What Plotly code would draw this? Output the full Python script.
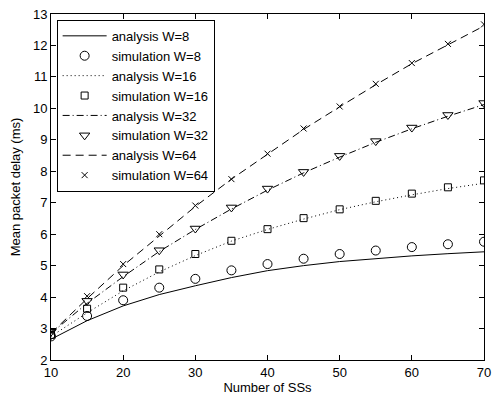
import plotly.graph_objects as go

x = [10, 15, 20, 25, 30, 35, 40, 45, 50, 55, 60, 65, 70]

ana_w8 = [2.66, 3.25, 3.72, 4.08, 4.36, 4.62, 4.84, 5.00, 5.13, 5.23, 5.31, 5.38, 5.44]
sim_w8 = [2.75, 3.40, 3.90, 4.30, 4.58, 4.85, 5.05, 5.22, 5.37, 5.48, 5.59, 5.68, 5.76]
ana_w16 = [2.75, 3.50, 4.20, 4.80, 5.32, 5.78, 6.15, 6.48, 6.78, 7.03, 7.25, 7.45, 7.62]
sim_w16 = [2.80, 3.63, 4.30, 4.88, 5.37, 5.79, 6.16, 6.51, 6.79, 7.06, 7.29, 7.49, 7.71]
ana_w32 = [2.85, 3.80, 4.65, 5.45, 6.15, 6.80, 7.40, 7.95, 8.45, 8.92, 9.35, 9.75, 10.12]
sim_w32 = [2.90, 3.88, 4.72, 5.49, 6.18, 6.85, 7.45, 7.98, 8.49, 8.96, 9.39, 9.79, 10.17]
ana_w64 = [2.85, 3.95, 5.00, 5.95, 6.88, 7.75, 8.55, 9.33, 10.05, 10.75, 11.42, 12.03, 12.62]
sim_w64 = [2.90, 4.03, 5.05, 6.00, 6.91, 7.75, 8.56, 9.36, 10.06, 10.78, 11.44, 12.05, 12.67]

x_ticks = [10, 20, 30, 40, 50, 60, 70]
y_ticks = list(range(2, 14))

fig = go.Figure()

def ana(y, name, dash):
    fig.add_trace(go.Scatter(x=x, y=y, mode="lines", name=name,
                             line=dict(color="black", width=1, dash=dash)))

def sim(y, name, symbol, size):
    fig.add_trace(go.Scatter(x=x, y=y, mode="markers", name=name,
                             marker=dict(symbol=symbol, size=size, color="black",
                                         line=dict(color="black", width=1))))

ana(ana_w8, "analysis W=8", "solid")
sim(sim_w8, "simulation W=8", "circle-open", 9)
ana(ana_w16, "analysis W=16", "1px,3px")
sim(sim_w16, "simulation W=16", "square-open", 7)
ana(ana_w32, "analysis W=32", "7px,3px,1px,3px")
sim(sim_w32, "simulation W=32", "triangle-down-open", 9)
ana(ana_w64, "analysis W=64", "8px,5px")
sim(sim_w64, "simulation W=64", "x-thin-open", 6)

axis_common = dict(showgrid=False, zeroline=False, showline=True, linecolor="black",
                   linewidth=1, mirror="ticks", ticks="inside", ticklen=5,
                   tickcolor="black", tickfont=dict(size=13, color="black"),
                   ticklabeloverflow="allow")

fig.update_layout(
    width=498, height=400,
    margin=dict(l=51, r=7, t=13, b=40),
    paper_bgcolor="white", plot_bgcolor="white",
    font=dict(family="Liberation Sans, Arial, sans-serif", color="black", size=13),
    xaxis=dict(range=[10, 70], tickvals=x_ticks,
               title=dict(text="Number of SSs", font=dict(size=13), standoff=4),
               **axis_common),
    yaxis=dict(range=[2, 13], tickvals=y_ticks,
               title=dict(text="Mean packet delay (ms)", font=dict(size=13), standoff=9),
               **axis_common),
    legend=dict(x=0.013, y=0.983, xanchor="left", yanchor="top",
                bgcolor="white", bordercolor="black", borderwidth=1,
                font=dict(size=13), tracegroupgap=0, itemwidth=44),
    showlegend=True,
)

fig.write_html("out.html")
